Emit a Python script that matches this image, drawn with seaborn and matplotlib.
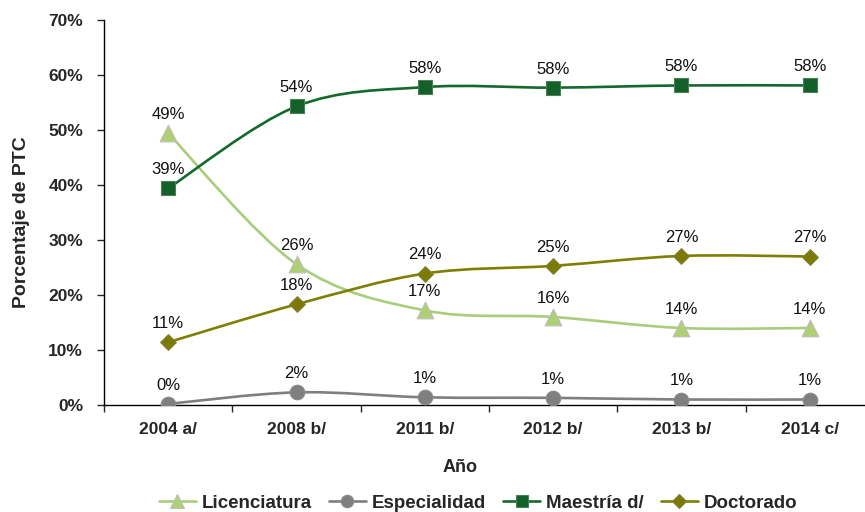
import numpy as np
import pandas as pd
import matplotlib
matplotlib.use("Agg")
from matplotlib import pyplot as plt
from matplotlib.path import Path
from matplotlib.patches import PathPatch
from matplotlib.lines import Line2D
import seaborn as sns

# data (percent of PTC)
years = ["2004 a/", "2008 b/", "2011 b/", "2012 b/", "2013 b/", "2014 c/"]
licenciatura = [49.4, 25.6, 17.2, 16.0, 14.0, 14.0]
especialidad = [0.2, 2.3, 1.4, 1.3, 1.0, 1.0]
maestria = [39.4, 54.3, 57.8, 57.7, 58.1, 58.1]
doctorado = [11.4, 18.3, 23.9, 25.3, 27.1, 27.0]

series_names = ["Licenciatura", "Especialidad", "Maestría d/", "Doctorado"]
series_values = [licenciatura, especialidad, maestria, doctorado]

line_colors = {"Licenciatura": "#A9CD7C", "Especialidad": "#7F7F7F",
               "Maestría d/": "#14692D", "Doctorado": "#7F7F00"}
fill_colors = {"Licenciatura": "#AECF72", "Especialidad": "#7F7F7F",
               "Maestría d/": "#13602A", "Doctorado": "#7A7A05"}
edge_colors = {"Licenciatura": "#BEBEBE", "Especialidad": "#8A8A8A",
               "Maestría d/": "#4D7F55", "Doctorado": "#808033"}
markers = {"Licenciatura": "^", "Especialidad": "o", "Maestría d/": "s", "Doctorado": "D"}
msizes = {"Licenciatura": 12, "Especialidad": 10.5, "Maestría d/": 10.5, "Doctorado": 8}

rows = []
for name, vals in zip(series_names, series_values):
    for i, v in enumerate(vals):
        rows.append({"pos": i, "year": years[i], "serie": name, "valor": v})
df = pd.DataFrame(rows)


def smooth_path(xs, ys):
    # excel-like smoothed line: catmull-rom segments as cubic bezier curves
    pts = np.column_stack([xs, ys]).astype(float)
    ext = np.vstack([pts[0], pts, pts[-1]])
    verts = [pts[0]]
    codes = [Path.MOVETO]
    for i in range(len(pts) - 1):
        p0, p1, p2, p3 = ext[i], ext[i + 1], ext[i + 2], ext[i + 3]
        c1 = p1 + (p2 - p0) / 6.0
        c2 = p2 - (p3 - p1) / 6.0
        verts += [c1, c2, p2]
        codes += [Path.CURVE4] * 3
    return Path(verts, codes)


sns.set_style("ticks")
plt.rcParams["font.family"] = ["Liberation Sans", "DejaVu Sans"]

fig = plt.figure(figsize=(8.65, 5.12), dpi=100)
ax = fig.add_axes([104 / 865, 107 / 512, 770 / 865, 385 / 512])

for name, vals in zip(series_names, series_values):
    sub = df[df["serie"] == name]
    ax.add_patch(PathPatch(smooth_path(sub["pos"], sub["valor"]), facecolor="none",
                           edgecolor=line_colors[name], lw=1.9, zorder=2))
    sns.scatterplot(data=sub, x="pos", y="valor", ax=ax, marker=markers[name],
                    s=msizes[name] ** 2, color=fill_colors[name],
                    edgecolor=edge_colors[name], linewidth=0.8, zorder=3, legend=False)
    for x, v in zip(sub["pos"], sub["valor"]):
        ax.annotate(f"{v:.0f}%", (x, v), xytext=(0, 8), textcoords="offset points",
                    ha="center", va="bottom", fontsize=12, color="#111111")

ax.set_xlim(-0.5, 5.5)
ax.set_ylim(0, 70)
ax.set_yticks(np.arange(0, 71, 10))
ax.set_yticklabels([f"{t}%" for t in range(0, 71, 10)], fontsize=12.5, fontweight="bold")
ax.set_xticks(np.arange(-0.5, 6, 1))
ax.set_xticklabels([])
ax.set_xticks(np.arange(6), minor=True)
ax.set_xticklabels(years, minor=True, fontsize=12.5, fontweight="bold")
ax.tick_params(axis="x", which="minor", length=0, pad=12)
ax.tick_params(axis="x", which="major", length=5, width=1, direction="out")
ax.tick_params(axis="y", length=5, width=1, direction="out", pad=10)
for side in ["top", "right"]:
    ax.spines[side].set_visible(False)
for side in ["left", "bottom"]:
    ax.spines[side].set_color("black")
    ax.spines[side].set_linewidth(1.0)

ax.set_xlabel("")
ax.set_ylabel("")
fig.text(22 / 865, 1 - 222 / 512, "Porcentaje de PTC", rotation=90, ha="center",
         va="center", fontsize=14, fontweight="bold")
fig.text(460 / 865, 1 - 467 / 512, "Año", ha="center", va="center",
         fontsize=13, fontweight="bold")

handles = [Line2D([0], [0], color=line_colors[n], lw=1.9, marker=markers[n],
                  markersize=msizes[n] * 0.85, markerfacecolor=fill_colors[n],
                  markeredgecolor=edge_colors[n], markeredgewidth=0.8)
           for n in series_names]
fig.legend(handles, series_names, loc="center", bbox_to_anchor=(478 / 865, 1 - 503 / 512),
           ncol=4, frameon=False, handlelength=2.0, handletextpad=0.3, columnspacing=0.9,
           prop={"weight": "bold", "size": 13.5})

plt.savefig("out.png", dpi=100)
